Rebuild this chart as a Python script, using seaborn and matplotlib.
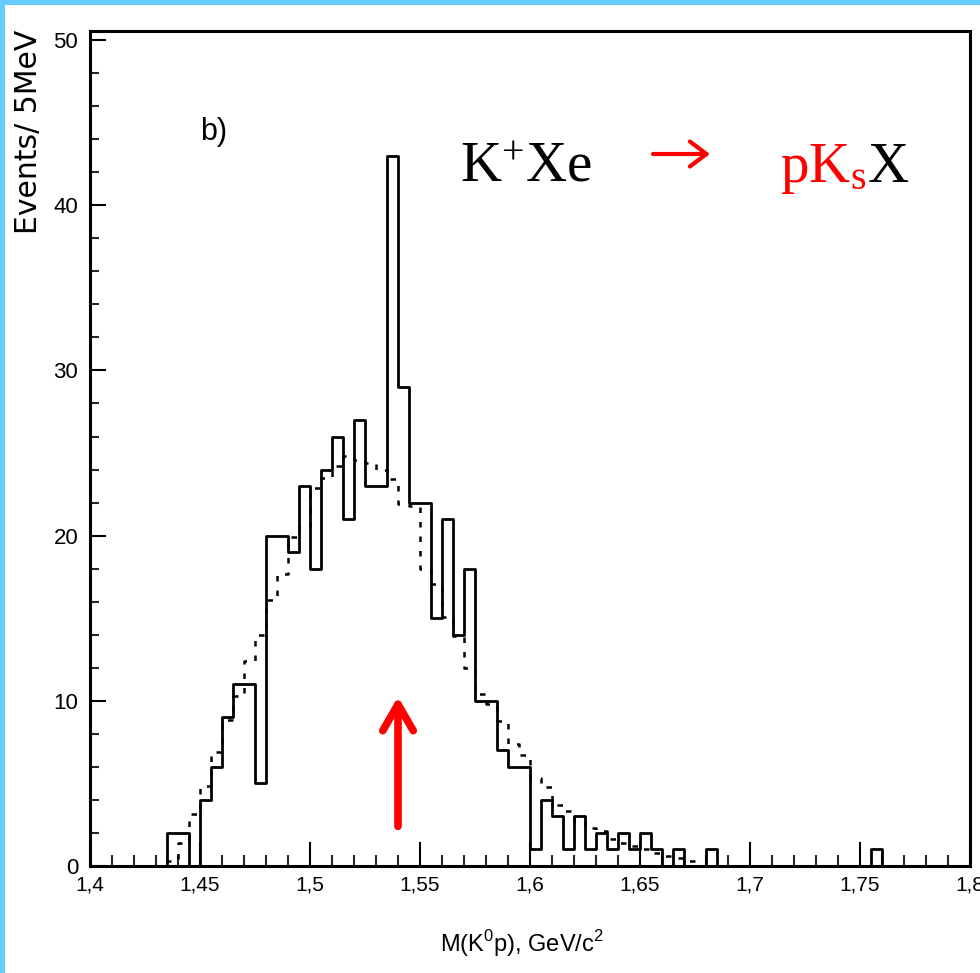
import numpy as np
import pandas as pd
import matplotlib
matplotlib.use("Agg")
import matplotlib.pyplot as plt
import seaborn as sns
from matplotlib.ticker import MultipleLocator, FixedLocator, FixedFormatter
from matplotlib.patches import Rectangle

# ---------------- data ----------------
bin_width = 0.005
solid_start = 1.435          # first edge of the measured histogram
solid_counts = [2, 2, 0, 4, 6, 9, 11, 11, 5, 20, 20, 19, 23, 18, 24, 26, 21, 27,
                23, 23, 43, 29, 22, 22, 15, 21, 14, 18, 10, 10, 7, 6, 6, 1, 4, 3,
                1, 3, 1, 2, 1, 2, 1, 2, 1, 0, 1, 0, 0, 1,
                0, 0, 0, 0, 0, 0, 0, 0, 0, 0, 0, 0, 0, 0, 1]
bg_start = 1.435             # first edge of the dashed (background) histogram
bg_counts = [0.3, 1.4, 3.15, 4.85, 6.9, 8.85, 10.3, 12.4, 14.0, 16.1, 17.7, 19.9,
             20.6, 22.9, 23.5, 24.2, 24.8, 24.6, 24.4, 24.0, 23.4, 21.9, 21.8,
             18.0, 17.1, 15.05, 13.9, 12.0, 10.4, 9.8, 8.8, 7.4, 6.7, 5.3, 4.8,
             3.7, 3.3, 2.7, 2.3, 2.1, 1.65, 1.4, 1.2, 1.0, 0.8, 0.6, 0.5, 0.3]
x_ticks = [1.4, 1.45, 1.5, 1.55, 1.6, 1.65, 1.7, 1.75, 1.8]
x_tick_labels = ["1,4", "1,45", "1,5", "1,55", "1,6", "1,65", "1,7", "1,75", "1,8"]
y_ticks = [0, 10, 20, 30, 40, 50]
y_tick_labels = ["0", "10", "20", "30", "40", "50"]
arrow_mass = 1.540
arrow_y = (2.4, 10.25)

# ---------------- style ----------------
sns.set_theme(style="white")
plt.rcParams["font.family"] = ["Liberation Sans Narrow", "Liberation Sans", "DejaVu Sans"]
plt.rcParams["mathtext.fontset"] = "custom"
plt.rcParams["mathtext.rm"] = "Liberation Serif"
plt.rcParams["mathtext.sf"] = "Liberation Sans"
plt.rcParams["text.color"] = "black"
plt.rcParams["axes.labelcolor"] = "black"

W, H = 980, 973
fig = plt.figure(figsize=(W / 100, H / 100), dpi=100)
fig.patch.set_facecolor("white")
ax = fig.add_axes([90 / W, 1 - 866 / H, 880 / W, 835 / H])
ax.set_facecolor("white")


def make_df(start, counts):
    vals = [0.0] + list(counts) + [0.0]
    lo = start - bin_width
    hi = lo + bin_width * len(vals)
    centers = lo + bin_width / 2 + bin_width * np.arange(len(vals))
    return pd.DataFrame({"mass": centers, "events": vals}), (lo, hi)


df_bg, rng_bg = make_df(bg_start, bg_counts)
df_s, rng_s = make_df(solid_start, solid_counts)

sns.histplot(data=df_bg, x="mass", weights="events", binwidth=bin_width,
             binrange=rng_bg, element="step", fill=False, color="black",
             linewidth=1.8, linestyle=(0, (2.2, 3.6)), ax=ax)
sns.histplot(data=df_s, x="mass", weights="events", binwidth=bin_width,
             binrange=rng_s, element="step", fill=False, color="black",
             linewidth=2.0, ax=ax)

ax.set_xlim(1.4, 1.8)
ax.set_ylim(0, 50.55)
ax.set_xlabel("")
ax.set_ylabel("")

ax.xaxis.set_major_locator(FixedLocator(x_ticks))
ax.xaxis.set_major_formatter(FixedFormatter(x_tick_labels))
ax.xaxis.set_minor_locator(MultipleLocator(0.01))
ax.yaxis.set_major_locator(FixedLocator(y_ticks))
ax.yaxis.set_major_formatter(FixedFormatter(y_tick_labels))
ax.yaxis.set_minor_locator(MultipleLocator(2))

ax.tick_params(axis="x", which="major", direction="in", length=17, width=1.5,
               bottom=True, top=False, labelsize=15, pad=7, colors="black")
ax.tick_params(axis="x", which="minor", direction="in", length=8, width=1.5,
               bottom=True, top=False)
ax.tick_params(axis="y", which="major", direction="in", length=11.5, width=1.5,
               left=True, right=False, labelsize=16, pad=8.5, colors="black")
ax.tick_params(axis="y", which="minor", direction="in", length=6.5, width=1.5,
               left=True, right=False)
for sp in ax.spines.values():
    sp.set_visible(True)
    sp.set_color("black")
    sp.set_linewidth(2.2)
ax.grid(False)

# red marker arrow at the peak
ax.annotate("", xy=(arrow_mass, arrow_y[1]), xytext=(arrow_mass, arrow_y[0]),
            arrowprops=dict(arrowstyle="->,head_length=0.95,head_width=0.55",
                            color="red", lw=5.5, shrinkA=0, shrinkB=0,
                            mutation_scale=20))

# reaction text
base = 1 - 181.7 / H
fig.text(460 / W, base, r"$\mathrm{K^{+}Xe}$", fontsize=41, color="black",
         va="baseline", ha="left")
ax.annotate("", xy=(710 / W, 1 - 154 / H), xytext=(653 / W, 1 - 154 / H),
            xycoords="figure fraction", textcoords="figure fraction",
            arrowprops=dict(arrowstyle="->,head_length=0.6,head_width=0.45",
                            color="red", lw=3, shrinkA=0, shrinkB=0,
                            mutation_scale=20))
red_txt = fig.text(780 / W, base, r"$\mathrm{pK_{s}}$", fontsize=41, color="red",
                   va="baseline", ha="left")
fig.canvas.draw()
bb = red_txt.get_window_extent(fig.canvas.get_renderer())
fig.text((bb.x1 + 1) / W, base, r"$\mathrm{X}$", fontsize=41, color="black",
         va="baseline", ha="left")

fig.text(200 / W, 1 - 140 / H, "b)", fontsize=22, family=["Liberation Sans", "DejaVu Sans"],
         va="baseline", ha="left")

# axis titles
fig.text(29 / W, 1 - 30 / H, "Events/ 5MeV", rotation=90, ha="center", va="top",
         fontsize=21.5, family=["DejaVu Sans"])
fig.text(522 / W, 1 - 944 / H, r"M(K$^{\mathsf{0}}$p), GeV/c$^{\mathsf{2}}$",
         ha="center", va="center", fontsize=17)

# light-blue frame strips
fig.add_artist(Rectangle((0, 1 - 5 / H), 1, 5 / H, transform=fig.transFigure,
                         facecolor="#66ccff", edgecolor="none", zorder=10))
fig.add_artist(Rectangle((0, 0), 5 / W, 1, transform=fig.transFigure,
                         facecolor="#66ccff", edgecolor="none", zorder=10))

fig.savefig("out.png", dpi=100, facecolor="white")
